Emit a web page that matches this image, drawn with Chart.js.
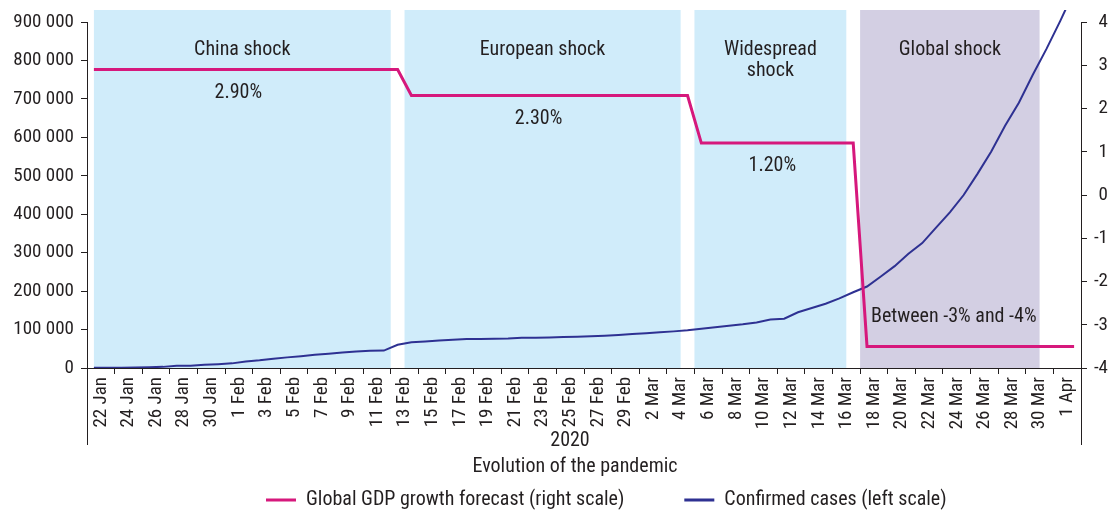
<!DOCTYPE html>
<html>
<head>
<meta charset="utf-8">
<script src="https://cdn.jsdelivr.net/npm/chart.js@4"></script>
<style>
  body { margin: 0; background: #fff; }
</style>
</head>
<body>
<canvas id="myChart" width="1110" height="515"></canvas>
<script>
const days = ['22 Jan', '23 Jan', '24 Jan', '25 Jan', '26 Jan', '27 Jan', '28 Jan', '29 Jan', '30 Jan', '31 Jan',
    '1 Feb', '2 Feb', '3 Feb', '4 Feb', '5 Feb', '6 Feb', '7 Feb', '8 Feb', '9 Feb', '10 Feb',
    '11 Feb', '12 Feb', '13 Feb', '14 Feb', '15 Feb', '16 Feb', '17 Feb', '18 Feb', '19 Feb', '20 Feb',
    '21 Feb', '22 Feb', '23 Feb', '24 Feb', '25 Feb', '26 Feb', '27 Feb', '28 Feb', '29 Feb',
    '1 Mar', '2 Mar', '3 Mar', '4 Mar', '5 Mar', '6 Mar', '7 Mar', '8 Mar', '9 Mar', '10 Mar',
    '11 Mar', '12 Mar', '13 Mar', '14 Mar', '15 Mar', '16 Mar', '17 Mar', '18 Mar', '19 Mar', '20 Mar',
    '21 Mar', '22 Mar', '23 Mar', '24 Mar', '25 Mar', '26 Mar', '27 Mar', '28 Mar', '29 Mar', '30 Mar',
    '31 Mar', '1 Apr', '2 Apr'];

// confirmed cases, left scale
const confirmedCases = [555, 654, 941, 1434, 2118, 2927, 5578, 6166, 8234, 9927,
    12038, 16787, 19887, 23898, 27643, 30802, 34395, 37129, 40160, 42769,
    44811, 45229, 60381, 66909, 69052, 71235, 73270, 75152, 75652, 76212,
    76841, 78602, 78982, 79546, 80399, 81376, 82736, 84122, 86011,
    88394, 90377, 92971, 95272, 98064, 102146, 106056, 109997, 113563, 118582,
    125865, 128343, 145000, 156000, 167000, 181000, 197000, 212000, 238000, 265000,
    297000, 325000, 365000, 405000, 450000, 505000, 563000, 630000, 690000, 762000,
    830000, 903000, 980000];

// global GDP growth forecast (%), right scale
const gdpForecast = [2.9, 2.9, 2.9, 2.9, 2.9, 2.9, 2.9, 2.9, 2.9, 2.9,
    2.9, 2.9, 2.9, 2.9, 2.9, 2.9, 2.9, 2.9, 2.9, 2.9,
    2.9, 2.9, 2.9, 2.3, 2.3, 2.3, 2.3, 2.3, 2.3, 2.3,
    2.3, 2.3, 2.3, 2.3, 2.3, 2.3, 2.3, 2.3, 2.3,
    2.3, 2.3, 2.3, 2.3, 2.3, 1.2, 1.2, 1.2, 1.2, 1.2,
    1.2, 1.2, 1.2, 1.2, 1.2, 1.2, 1.2, -3.5, -3.5, -3.5,
    -3.5, -3.5, -3.5, -3.5, -3.5, -3.5, -3.5, -3.5, -3.5, -3.5,
    -3.5, -3.5, -3.5];

// shock periods
const bandNames = [['China shock'], ['European shock'], ['Widespread', 'shock'], ['Global shock']];
const bandStart = ['22 Jan', '14 Feb', '6 Mar', '18 Mar'];
const bandEnd = ['12 Feb', '4 Mar', '16 Mar', '30 Mar'];
const bandForecast = ['2.90%', '2.30%', '1.20%', 'Between -3% and -4%'];

const leftTicks = [0, 100000, 200000, 300000, 400000, 500000, 600000, 700000, 800000, 900000];
const rightTicks = [-4, -3, -2, -1, 0, 1, 2, 3, 4];

const FONT = '"Liberation Sans Narrow", "Roboto Condensed", "DejaVu Sans Condensed", sans-serif';
const TXT = '#231f20';
const PINK = '#d6187c';
const NAVY = '#2e3192';
const BLUE_BAND = '#d0ecfa';
const PURPLE_BAND = '#d3cfe3';

function spaced(v) {
    return String(v).replace(/\B(?=(\d{3})+(?!\d))/g, ' ');
}

function bandEdges(x, i) {
    const w = x.getPixelForValue(1) - x.getPixelForValue(0);
    let left = x.getPixelForValue(days.indexOf(bandStart[i])) - w / 2;
    if (i === 0) left = x.getPixelForValue(0);
    const right = x.getPixelForValue(days.indexOf(bandEnd[i])) + w / 2;
    return [left, right];
}

const bandsPlugin = {
    id: 'bands',
    beforeDatasetsDraw(chart) {
        const {ctx, chartArea, scales} = chart;
        ctx.save();
        bandStart.forEach((s, i) => {
            const [left, right] = bandEdges(scales.x, i);
            ctx.fillStyle = i === 3 ? PURPLE_BAND : BLUE_BAND;
            ctx.fillRect(left, chartArea.top - 12, right - left, chartArea.bottom - chartArea.top + 12);
        });
        ctx.restore();
    },
    afterDatasetsDraw(chart) {
        const {ctx, scales} = chart;
        const x = scales.x, y1 = scales.y1;
        ctx.save();
        ctx.fillStyle = TXT;
        ctx.font = '20px ' + FONT;
        ctx.textBaseline = 'middle';
        bandStart.forEach((s, i) => {
            const i0 = days.indexOf(s);
            const [left, right] = bandEdges(x, i);
            const cx = (left + right) / 2;
            ctx.textAlign = 'center';
            bandNames[i].forEach((line, k) => ctx.fillText(line, cx, 50 + k * 21));
            const level = y1.getPixelForValue(gdpForecast[i0]);
            if (i < 3) {
                ctx.fillText(bandForecast[i], i === 2 ? cx + 2 : cx - 4, level + 23);
            } else {
                ctx.textAlign = 'left';
                ctx.fillText(bandForecast[i], x.getPixelForValue(i0) + 4, level - 29);
            }
        });
        ctx.restore();
    },
    afterDraw(chart) {
        const {ctx, chartArea} = chart;
        ctx.save();
        // axis lines run down past the date labels
        ctx.strokeStyle = TXT;
        ctx.lineWidth = 1;
        ctx.beginPath();
        ctx.moveTo(Math.round(chartArea.left) + 0.5, chartArea.bottom);
        ctx.lineTo(Math.round(chartArea.left) + 0.5, 445);
        ctx.moveTo(Math.round(chartArea.right) + 0.5, chartArea.bottom);
        ctx.lineTo(Math.round(chartArea.right) + 0.5, 445);
        ctx.stroke();
        // axis title
        ctx.fillStyle = TXT;
        ctx.font = '20px ' + FONT;
        ctx.textAlign = 'center';
        ctx.textBaseline = 'middle';
        ctx.fillText('2020', 570, 441);
        ctx.fillText('Evolution of the pandemic', 575, 467);
        // legend
        ctx.textAlign = 'left';
        let lx = 266;
        const ly = 500;
        chart.data.datasets.forEach((ds) => {
            ctx.fillStyle = ds.borderColor;
            ctx.fillRect(lx, ly - 1.5, 30, 3);
            ctx.fillStyle = TXT;
            ctx.fillText(ds.label, lx + 40, ly);
            lx += 40 + ctx.measureText(ds.label).width + 60;
        });
        ctx.restore();
    }
};

const ctx = document.getElementById('myChart').getContext('2d');
const chart = new Chart(ctx, {
    type: 'line',
    data: {
        labels: days,
        datasets: [{
            label: 'Global GDP growth forecast (right scale)',
            data: gdpForecast,
            yAxisID: 'y1',
            borderColor: PINK,
            backgroundColor: PINK,
            borderWidth: 3,
            pointRadius: 0,
            tension: 0,
        }, {
            label: 'Confirmed cases (left scale)',
            data: confirmedCases,
            yAxisID: 'y',
            borderColor: NAVY,
            backgroundColor: NAVY,
            borderWidth: 2,
            pointRadius: 0,
            tension: 0,
            clip: {left: 0, top: 12, right: 0, bottom: 0},
        }]
    },
    options: {
        responsive: false,
        animation: false,
        layout: {padding: {top: 22, right: 2, left: 0, bottom: 0}},
        plugins: {legend: {display: false}, tooltip: {enabled: false}},
        scales: {
            x: {
                offset: true,
                grid: {
                    offset: true,
                    drawOnChartArea: false,
                    tickLength: 6,
                    color: (c) => (c.index % 2 === 0 ? TXT : 'rgba(0,0,0,0)'),
                },
                border: {color: TXT, width: 1},
                ticks: {
                    autoSkip: false,
                    minRotation: 90,
                    maxRotation: 90,
                    padding: 3,
                    labelOffset: 7,
                    color: TXT,
                    font: {family: FONT, size: 19},
                    callback: (v, i) => (i % 2 === 0 && i < 71 ? days[i] : ''),
                },
                afterFit: (s) => { s.height = 147; },
            },
            y: {
                position: 'left',
                min: 0,
                max: 900000,
                afterBuildTicks: (s) => { s.ticks = leftTicks.map((v) => ({value: v})); },
                grid: {drawOnChartArea: false, tickLength: 6, color: TXT},
                border: {color: TXT, width: 1},
                ticks: {
                    padding: 7,
                    color: TXT,
                    font: {family: FONT, size: 19},
                    callback: (v) => spaced(v),
                },
                afterFit: (s) => { s.width = 87; },
            },
            y1: {
                position: 'right',
                min: -4,
                max: 4,
                afterBuildTicks: (s) => { s.ticks = rightTicks.map((v) => ({value: v})); },
                grid: {drawOnChartArea: false, tickLength: 6, color: TXT},
                border: {color: TXT, width: 1},
                ticks: {
                    padding: 4,
                    crossAlign: 'far',
                    color: TXT,
                    font: {family: FONT, size: 19},
                    callback: (v) => String(v),
                },
                afterFit: (s) => { s.width = 27; },
            }
        }
    },
    plugins: [bandsPlugin]
});
</script>
</body>
</html>
